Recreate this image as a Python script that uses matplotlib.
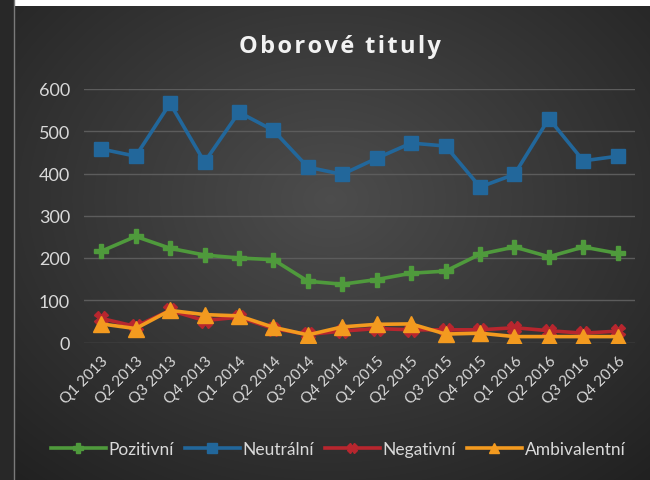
import numpy as np
import matplotlib
matplotlib.use("Agg")
import matplotlib.pyplot as plt
from matplotlib.lines import Line2D

plt.rcParams['font.family'] = ['Lato', 'DejaVu Sans']

categories = ["Q1 2013", "Q2 2013", "Q3 2013", "Q4 2013",
              "Q1 2014", "Q2 2014", "Q3 2014", "Q4 2014",
              "Q1 2015", "Q2 2015", "Q3 2015", "Q4 2015",
              "Q1 2016", "Q2 2016", "Q3 2016", "Q4 2016"]
pozitivni = [216, 251, 223, 207, 200, 196, 145, 138, 149, 164, 169, 209, 226, 203, 226, 211]
neutralni = [458, 441, 566, 427, 545, 502, 415, 398, 436, 472, 465, 368, 398, 530, 430, 441]
negativni = [57, 38, 76, 52, 60, 33, 19, 27, 33, 30, 30, 30, 35, 28, 22, 27]
ambivalentni = [44, 33, 76, 66, 63, 36, 18, 37, 43, 44, 20, 22, 14, 14, 14, 14]
yticks = [0, 100, 200, 300, 400, 500, 600]
title = "Oborové tituly"

W, H = 650, 481
fig = plt.figure(figsize=(W / 100, H / 100), dpi=100)

# background gradient
bg = fig.add_axes([0, 0, 1, 1], zorder=-10)
yy, xx = np.mgrid[0:H, 0:W]
cx, cy = 330, 200
r = np.sqrt(((xx - cx) / 420.0) ** 2 + ((yy - cy) / 330.0) ** 2)
val = 0.30 - 0.15 * np.clip(r, 0, 1.2)
img = np.dstack([val, val, val])
img[:, :14] = 0.16
img[:7, 14:] = 1.0
bg.imshow(img, extent=[0, W, H, 0], aspect='auto', interpolation='bilinear')
bg.plot([14, 14], [0, H], color='#7a7a7a', lw=1)
bg.set_xlim(0, W)
bg.set_ylim(H, 0)
bg.axis('off')

ax = fig.add_axes([84 / W, 1 - 343.5 / H, (635 - 84) / W, (343.5 - 90) / H])
ax.set_facecolor('none')
x = np.arange(len(categories))

series = [
    ("Pozitivní", pozitivni, '#4f9a3c', 'P', 10),
    ("Neutrální", neutralni, '#22679b', 's', 10),
    ("Negativní", negativni, '#b8262e', 'X', 10),
    ("Ambivalentní", ambivalentni, '#f39a1f', '^', 11),
]
handles = []
for i, (name, vals, col, mk, ms) in enumerate(series):
    ax.plot(x, vals, color=col, lw=2.6, marker=mk, markersize=ms,
            markerfacecolor=col, markeredgecolor=col, zorder=3 + i)
    handles.append(Line2D([0], [0], color=col, lw=2.6, marker=mk,
                          markersize=7, markerfacecolor=col, markeredgecolor=col))

ax.set_xlim(-0.5, len(categories) - 0.5)
ax.set_ylim(0, 600)
ax.set_yticks(yticks)
ax.set_yticklabels([str(v) for v in yticks], color='#d9d9d9', fontsize=13)
ax.set_xticks(x)
ax.set_xticklabels(categories, rotation=45, ha='right', rotation_mode='anchor',
                   color='#d9d9d9', fontsize=11)
ax.tick_params(length=0, pad=10)
ax.tick_params(axis='x', pad=8)
ax.grid(axis='y', color='#5c5c5c', lw=1)
ax.set_axisbelow(True)
for s in ax.spines.values():
    s.set_visible(False)

spaced = "\u200a".join(title)
fig.text(340 / W, 1 - 47 / H, spaced, ha='center', va='center',
         color='#f2f2f2', fontsize=17, fontweight='bold',
         family=['Open Sans', 'DejaVu Sans'])

leg = fig.legend(handles, [s[0] for s in series], loc='center',
                 bbox_to_anchor=(338 / W, 1 - 450 / H), ncol=4, frameon=False,
                 fontsize=12.5, labelcolor='#d9d9d9', handlelength=3.2,
                 handletextpad=0.15, columnspacing=0.6)

fig.savefig('out.png', dpi=100)
